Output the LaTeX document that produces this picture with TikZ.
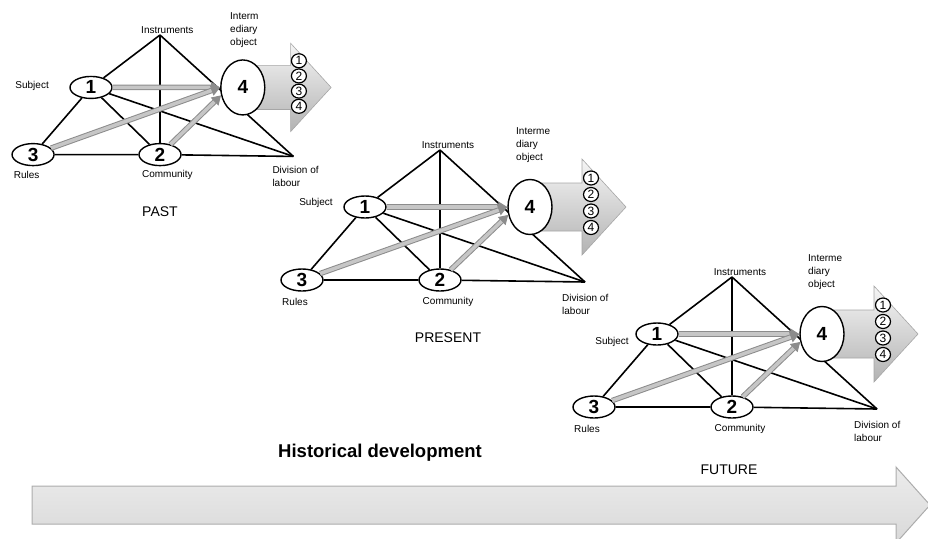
\documentclass[tikz,border=0pt]{standalone}
\usepackage{fontspec}
\setmainfont{Liberation Sans}
\usetikzlibrary{shapes.geometric,arrows.meta}

\tikzset{
  tag/.style={font=\fontsize{10}{13}\selectfont, inner sep=1pt, align=left},
  num/.style={ellipse, draw, line width=1.4pt, fill=white, minimum width=42pt,
    minimum height=22pt, inner sep=0pt, font=\fontsize{19}{19}\selectfont\bfseries},
  objnum/.style={num, minimum width=44pt, minimum height=55pt},
  tiny/.style={ellipse, draw, line width=1.2pt, fill=white, minimum width=15pt,
    minimum height=14pt, inner sep=0pt, font=\fontsize{12}{12}\selectfont},
  link/.style={line width=1.6pt},
  mediate/.style={draw=gray!90, line width=1pt, double=gray!45, double distance=3.5pt,
    -{Triangle[length=9pt,width=11pt]}},
  outcome/.style={draw=gray!70, line width=0.6pt, top color=gray!8, bottom color=gray!60},
  timeline/.style={draw=gray!65, line width=1pt, top color=gray!15, bottom color=gray!30},
  era/.style={font=\fontsize{14}{14}\selectfont},
}

% one activity system: name, shift, scale, object text, subject position
\newcommand\actsys[5]{%
  \begin{scope}[shift={#2}, scale=#3]
    \coordinate (#1-in) at (0,0);
    \coordinate (#1-dl) at (145,132);
    \draw[link] (#1-in) -- (#1-dl);
    \draw[outcome] (90,33) -- (142,33) -- (142,9) -- (186,57) -- (142,105)
      -- (142,81) -- (90,81) -- cycle;
    \node[num] (#1-1) at (-75,57) {1};
    \node[num] (#1-2) at (0,130) {2};
    \node[num] (#1-3) at (-138,130) {3};
    \node[objnum] (#1-4) at (90,57) {4};
    \foreach \k/\yy in {1/28,2/44.5,3/61,4/77.5}
      \node[tiny] (#1-o\k) at (151,\yy) {\k};
    \draw[link] (#1-in) -- (#1-1) -- (#1-3) -- (#1-2) -- (#1-dl);
    \draw[link] (#1-in) -- (#1-2);
    \draw[link] (#1-1) -- (#1-2);
    \draw[link] (#1-1) -- (#1-dl);
    \draw[mediate] (#1-1) -- (#1-4);
    \draw[mediate] (#1-3) -- (#1-4.west);
    \draw[mediate] (#1-2) -- (#1-4.200);
    \node[tag] (#1-ti) at (8,-5) {Instruments};
    \node[tag] (#1-ts) at #5 {Subject};
    \node[tag] (#1-tr) at (-145,152) {Rules};
    \node[tag] (#1-tc) at (8,152) {Community};
    \node[tag, anchor=west] (#1-td) at (121,154) {Division of\\labour};
    \node[tag, anchor=west] (#1-to) at (75,-5) {#4};
  \end{scope}}

\begin{document}
\begin{tikzpicture}[x=1pt, y=-1pt]
  \useasboundingbox (0,0) rectangle (928,538);
  \clip (0,0) rectangle (928,538);

  \draw[timeline] (32,486) -- (896,486) -- (896,467) -- (930,505) -- (896,543)
    -- (896,524) -- (32,524) -- cycle;
  \node[font=\fontsize{18.5}{18.5}\selectfont\bfseries] (hist) at (380,453) {Historical development};

  \actsys{past}{(160,35)}{0.92}{Interm\\ediary\\object}{(-139,55)}
  \actsys{pres}{(440,150)}{1}{Interme\\diary\\object}{(-124,53)}
  \actsys{fut}{(732,277)}{1}{Interme\\diary\\object}{(-120,65)}

  \node[era] (past-t) at (160,212) {PAST};
  \node[era] (pres-t) at (448,338) {PRESENT};
  \node[era] (fut-t) at (729,470) {FUTURE};
\end{tikzpicture}
\end{document}
